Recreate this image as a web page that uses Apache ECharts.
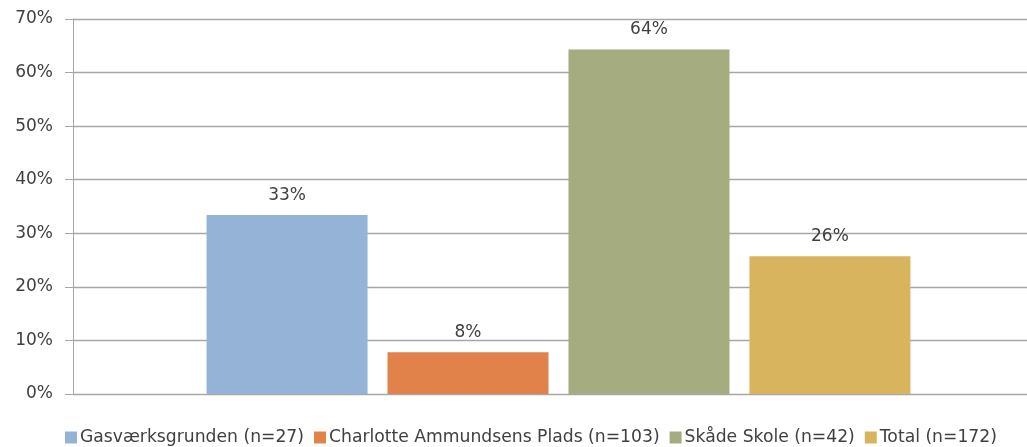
<!DOCTYPE html>
<html>
<head>
<meta charset="utf-8">
<script src="https://cdn.jsdelivr.net/npm/echarts@6/dist/echarts.min.js"></script>
<style>
html,body{margin:0;padding:0;background:#fff;overflow:hidden;}
#chart{width:1027px;height:447px;}
</style>
</head>
<body>
<div id="chart"></div>
<script>
const seriesNames = ['Gasværksgrunden (n=27)', 'Charlotte Ammundsens Plads (n=103)', 'Skåde Skole (n=42)', 'Total (n=172)'];
const seriesValues = [33.4, 7.8, 64.3, 25.7];
const seriesColors = ['#95B3D7', '#E0824A', '#A4AC80', '#D9B45E'];
const yTicks = [0, 10, 20, 30, 40, 50, 60, 70];

const chart = echarts.init(document.getElementById('chart'));
const font = 'DejaVu Sans, sans-serif';
chart.setOption({
  animation: false,
  textStyle: {fontFamily: font},
  grid: {left: 73, width: 971, top: 19, height: 375, containLabel: false, outerBoundsMode: 'none'},
  legend: {
    top: 429, left: 60, padding: [0, 5, 0, 5],
    icon: 'rect', itemWidth: 12, itemHeight: 12, itemGap: 10,
    textStyle: {fontSize: 17.2, color: '#404040', fontFamily: font, padding: [0,0,0,-2]},
    data: seriesNames
  },
  xAxis: {
    type: 'category', data: [''],
    axisLine: {lineStyle: {color: '#A6A6A6', width: 1}},
    axisTick: {show: false},
    axisLabel: {show: false}
  },
  yAxis: {
    type: 'value', min: yTicks[0], max: yTicks[yTicks.length - 1], interval: 10,
    axisLine: {show: true, lineStyle: {color: '#A6A6A6', width: 1}},
    axisTick: {show: true, length: 8, lineStyle: {color: '#A6A6A6'}},
    axisLabel: {formatter: v => v + '%', fontSize: 17, color: '#404040', margin: 20, fontFamily: font},
    splitLine: {lineStyle: {color: '#A6A6A6', width: 1.3}}
  },
  series: seriesNames.map((n, i) => ({
    name: n, type: 'bar',
    data: [seriesValues[i]],
    barWidth: 161, barGap: '12.4%',
    itemStyle: {color: seriesColors[i]},
    label: {show: true, position: 'top', distance: 11, fontSize: 17, color: '#404040', fontFamily: font,
      formatter: p => Math.round(p.value) + '%'}
  }))
});
</script>
</body>
</html>
